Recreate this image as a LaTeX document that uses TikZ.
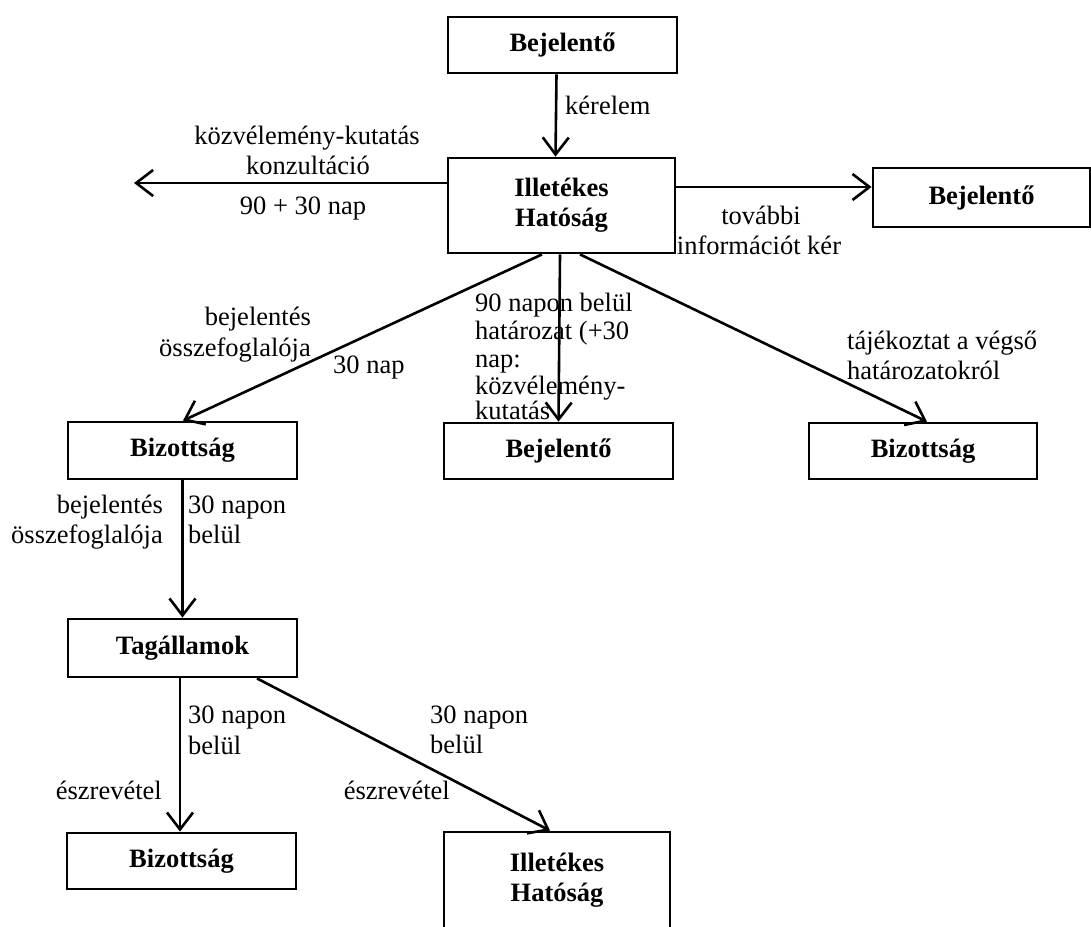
\documentclass[tikz,border=0pt]{standalone}
\usepackage{fontspec}
\setmainfont{Liberation Serif}
\usetikzlibrary{arrows.meta}
\begin{document}
\begin{tikzpicture}[x=1pt,y=-1pt,
  box/.style={draw, line width=2.8pt, inner sep=0pt, align=center,
    font=\fontsize{26.5}{30}\selectfont\bfseries},
  lbl/.style={inner sep=0pt, text height=18pt, text depth=6pt,
    font=\fontsize{26.5}{30}\selectfont},
  arr/.style={line width=2.6pt,
    -{Straight Barb[length=17pt,width=26pt,line width=2.6pt]}}
]
\useasboundingbox (0,0) rectangle (1091,926);

% boxes
\node[box, minimum width=229pt, minimum height=56pt] (b1) at (562.5,45) {Bejelentő};
\node[box, minimum width=227pt, minimum height=95pt] (ih) at (561.5,205.5) {Illetékes\\Hatóság};
\node[box, minimum width=217pt, minimum height=59pt] (b2) at (981.5,197.5) {Bejelentő};
\node[box, minimum width=229pt, minimum height=57pt] (biz1) at (182.5,450.5) {Bizottság};
\node[box, minimum width=229pt, minimum height=56pt] (b3) at (558.5,451) {Bejelentő};
\node[box, minimum width=228pt, minimum height=56pt] (biz2) at (923,451) {Bizottság};
\node[box, minimum width=229pt, minimum height=58pt] (tag) at (182.5,648) {Tagállamok};
\node[box, minimum width=229pt, minimum height=56pt] (biz3) at (181.5,861) {Bizottság};
\node[box, minimum width=226pt, minimum height=96pt] (ih2) at (557,880) {Illetékes\\Hatóság};

% connectors
\coordinate (lend) at (134,183);
\draw[arr] ([xshift=-6pt]b1.south) -- ([xshift=-6pt]ih.north);
\draw[arr] (ih.west |- lend) -- (lend);
\draw[arr] ([yshift=18.5pt]ih.east) -- ([yshift=18.5pt]ih.east -| b2.west);
\draw[arr] ([xshift=-19.5pt]ih.south) -- ([xshift=0.5pt]biz1.north);
\draw[arr] ([xshift=-1.5pt]ih.south) -- (b3.north);
\draw[arr] ([xshift=18.5pt]ih.south) -- ([xshift=4pt]biz2.north);
\draw[arr] (biz1.south) -- (tag.north);
\draw[arr] ([xshift=-2.5pt]tag.south) -- ([xshift=-1.5pt]biz3.north);
\draw[arr] ([xshift=74.5pt]tag.south) -- ([xshift=-7pt]ih2.north);

% labels
\node[lbl, anchor=west] (t1) at (565,108) {kérelem};
\node[lbl] (t2) at (307,138) {közvélemény-kutatás};
\node[lbl] (t3) at (308,168) {konzultáció};
\node[lbl] (t4) at (303,208) {90 + 30 nap};
\node[lbl] (t5) at (761,218) {további};
\node[lbl] (t6) at (759,248) {információt kér};
\node[lbl, anchor=east] (t7) at (311,319) {bejelentés};
\node[lbl, anchor=east] (t8) at (311,350) {összefoglalója};
\node[lbl, anchor=west] (t9) at (333,367) {30 nap};
\node[lbl, anchor=west] (t10) at (475,305) {90 napon belül};
\node[lbl, anchor=west] (t11) at (475,333) {határozat (+30};
\node[lbl, anchor=west] (t12) at (475,361) {nap:};
\node[lbl, anchor=west] (t13) at (475,388) {közvélemény-};
\node[lbl, anchor=west] (t14) at (475,413) {kutatás};
\node[lbl, anchor=west] (t15) at (847,343) {tájékoztat a végső};
\node[lbl, anchor=west] (t16) at (847,373) {határozatokról};
\node[lbl, anchor=east] (t17) at (163,507) {bejelentés};
\node[lbl, anchor=east] (t18) at (163,537) {összefoglalója};
\node[lbl, anchor=west] (t19) at (188,507) {30 napon};
\node[lbl, anchor=west] (t20) at (188,537) {belül};
\node[lbl, anchor=west] (t21) at (188,717) {30 napon};
\node[lbl, anchor=west] (t22) at (188,748) {belül};
\node[lbl, anchor=east] (t23) at (162,793) {észrevétel};
\node[lbl, anchor=west] (t24) at (430,717) {30 napon};
\node[lbl, anchor=west] (t25) at (430,747) {belül};
\node[lbl, anchor=east] (t26) at (450,793) {észrevétel};
\end{tikzpicture}
\end{document}
